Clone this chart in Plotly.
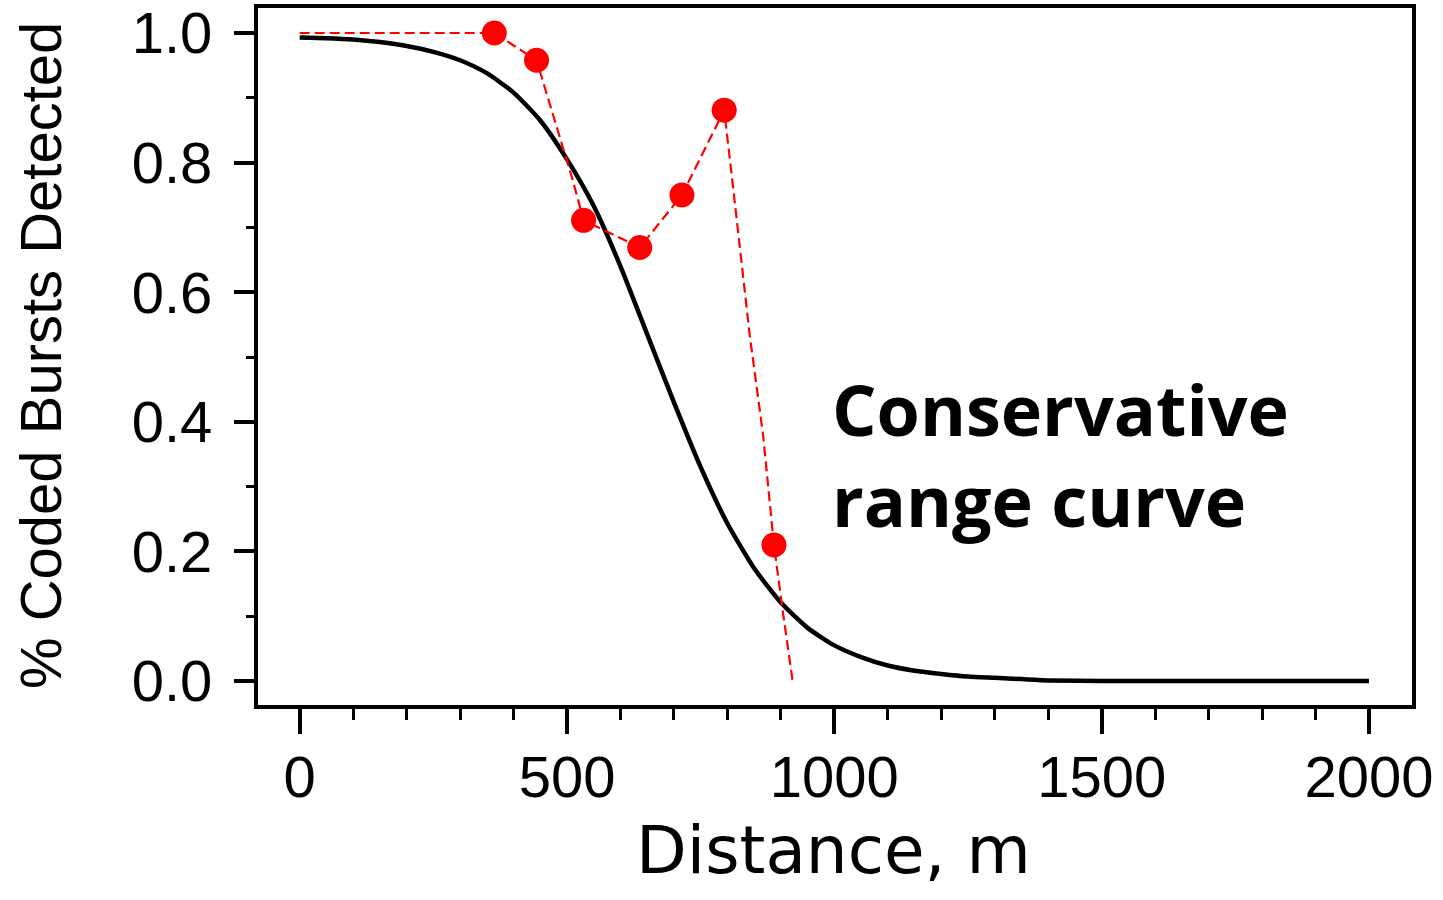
import plotly.graph_objects as go

# ---- data ----
# conservative range curve (black solid line)
curve_distance = [0, 50, 100, 150, 200, 250, 300, 350, 400, 450, 500, 550, 600,
                  650, 700, 750, 800, 850, 900, 950, 1000, 1050, 1100, 1150,
                  1200, 1250, 1300, 1350, 1400, 1500, 2000]
curve_fraction = [0.993, 0.992, 0.990, 0.986, 0.980, 0.971, 0.958, 0.938, 0.908,
                  0.865, 0.805, 0.733, 0.640, 0.535, 0.430, 0.330, 0.243, 0.174,
                  0.121, 0.082, 0.055, 0.037, 0.024, 0.016, 0.011, 0.007, 0.005,
                  0.003, 0.001, 0.0, 0.0]

# measured detections (red dashed line, including unmarked vertices)
measured_line_distance = [0, 364, 443, 510, 531, 636, 715, 794, 812, 842, 867, 887, 904, 922]
measured_line_fraction = [1.0, 1.0, 0.958, 0.775, 0.711, 0.669, 0.750, 0.881,
                          0.752, 0.532, 0.378, 0.210, 0.105, 0.0]

# measured detections shown with markers
measured_pt_distance = [364, 443, 531, 636, 715, 794, 887]
measured_pt_fraction = [1.0, 0.958, 0.711, 0.669, 0.750, 0.881, 0.210]

x_tick_vals = [0, 500, 1000, 1500, 2000]
y_tick_vals = [0.0, 0.2, 0.4, 0.6, 0.8, 1.0]

PLOT_L, PLOT_R, PLOT_T, PLOT_B = 258, 1412, 8, 705
W, H = 1443, 900


def px(xp):
    return (xp - PLOT_L) / (PLOT_R - PLOT_L)


def py(yp):
    return (PLOT_B - yp) / (PLOT_B - PLOT_T)


fig = go.Figure()

fig.add_trace(go.Scatter(
    x=curve_distance, y=curve_fraction, mode="lines",
    line=dict(color="black", width=4.5, shape="spline", smoothing=0.6),
    showlegend=False, hoverinfo="skip"))

fig.add_trace(go.Scatter(
    x=measured_line_distance, y=measured_line_fraction, mode="lines",
    line=dict(color="#ff0000", width=2.2, dash="10px,5px"),
    showlegend=False, hoverinfo="skip"))

fig.add_trace(go.Scatter(
    x=measured_pt_distance, y=measured_pt_fraction, mode="markers",
    marker=dict(color="#ff0000", size=25, line=dict(width=0)),
    showlegend=False))

tick_font = dict(family="Liberation Sans, Arial, sans-serif", size=58, color="black")

fig.update_layout(
    width=W, height=H,
    margin=dict(l=PLOT_L, r=W - PLOT_R, t=PLOT_T, b=H - PLOT_B),
    paper_bgcolor="white", plot_bgcolor="white",
    xaxis=dict(
        range=[-78, 2080.5], tickvals=x_tick_vals, ticktext=[str(v) for v in x_tick_vals],
        ticks="outside", ticklen=25, tickwidth=4, tickcolor="black",
        showline=True, linewidth=4, linecolor="black", mirror=True,
        showgrid=False, zeroline=False, tickfont=tick_font, ticklabelstandoff=-7,
        ticklabeloverflow="allow", automargin=False,
        minor=dict(dtick=100, tick0=0, ticks="outside", ticklen=11, tickwidth=3,
                   tickcolor="black", showgrid=False),
    ),
    yaxis=dict(
        range=[-0.037, 1.0386], tickvals=y_tick_vals,
        ticktext=["%.1f" % v for v in y_tick_vals],
        ticks="outside", ticklen=20, tickwidth=4, tickcolor="black",
        showline=True, linewidth=4, linecolor="black", mirror=True,
        showgrid=False, zeroline=False, tickfont=tick_font, ticklabelstandoff=10,
        ticklabeloverflow="allow", automargin=False,
        minor=dict(dtick=0.1, tick0=0, ticks="outside", ticklen=8, tickwidth=3,
                   tickcolor="black", showgrid=False),
    ),
    annotations=[
        dict(text="Conservative<br>range curve", xref="paper", yref="paper",
             x=px(830), y=0.36, xanchor="left", yanchor="middle", align="left",
             showarrow=False,
             font=dict(family="Open Sans, sans-serif", size=70, color="black",
                       weight="bold")),
        dict(text="Distance, m", xref="paper", yref="paper",
             x=px(833), y=py(850), xanchor="center",
             yanchor="middle", showarrow=False,
             font=dict(family="DejaVu Sans, sans-serif", size=66, color="black")),
        dict(text="% Coded Bursts Detected", xref="paper", yref="paper",
             x=px(40), y=py(356), xanchor="center",
             yanchor="middle", textangle=-90, showarrow=False,
             font=dict(family="Liberation Sans, Arial, sans-serif", size=58,
                       color="black")),
    ],
)

fig.write_html(
    "out.html",
    config={"displayModeBar": False},
    post_script="document.body.style.margin='0';document.body.style.padding='0';",
)
